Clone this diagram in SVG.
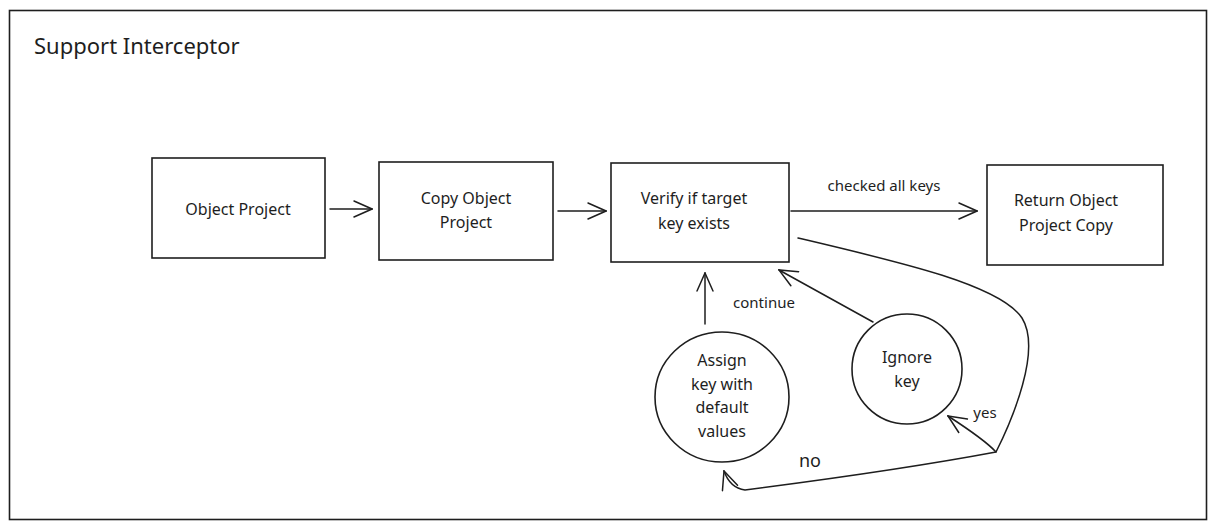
<svg xmlns="http://www.w3.org/2000/svg" width="1217" height="530" viewBox="0 0 1217 530">
<defs>
<style>
.frame{fill:#fff;stroke:#1e1e1e;stroke-width:1.6}
.box{fill:#fff;stroke:#1e1e1e;stroke-width:1.6}
.edge{fill:none;stroke:#1e1e1e;stroke-width:1.5;stroke-linecap:round;stroke-linejoin:round}
.t{font-family:"Noto Sans","DejaVu Sans",sans-serif;font-size:16px;fill:#1e1e1e;text-anchor:middle}
.title{font-family:"Noto Sans","DejaVu Sans",sans-serif;font-size:22px;fill:#1e1e1e}
.lbl{font-family:"Noto Sans","DejaVu Sans",sans-serif;font-size:15px;fill:#1e1e1e;text-anchor:middle}
</style>
<marker id="ah" viewBox="0 0 20 20" refX="19" refY="10" markerWidth="20" markerHeight="20" markerUnits="userSpaceOnUse" orient="auto">
<path d="M1,2 L19,10 L1,18" fill="none" stroke="#1e1e1e" stroke-width="1.5" stroke-linecap="round"/>
</marker>
</defs>
<rect x="0" y="0" width="1217" height="530" fill="#fff"/>
<g id="frame">
<rect class="frame" x="9.5" y="10.5" width="1197" height="509"/>
<text class="title" x="34" y="54">Support Interceptor</text>
</g>
<g id="connectors">
<line class="edge" x1="330" y1="209" x2="372" y2="209" marker-end="url(#ah)"/>
<line class="edge" x1="558" y1="211" x2="606" y2="211" marker-end="url(#ah)"/>
<line class="edge" x1="791" y1="211" x2="977" y2="211" marker-end="url(#ah)"/>
<text class="lbl" x="884" y="191">checked all keys</text>
<line class="edge" x1="705" y1="324" x2="705" y2="273" marker-end="url(#ah)"/>
<text class="lbl" x="764" y="308">continue</text>
<line class="edge" x1="873" y1="322" x2="779" y2="270" marker-end="url(#ah)"/>
<path class="edge" d="M798,238 C900,262 1000,285 1022,318 C1042,350 1012,420 996,452 Q985,440 948,416" marker-end="url(#ah)"/>
<path class="edge" d="M996,452 Q900,470 745,490 Q730,488 724,471" marker-end="url(#ah)"/>
<text class="lbl" x="985" y="418">yes</text>
<text class="t" x="810" y="467" style="font-size:18px">no</text>
</g>
<g id="n1">
<rect class="box" x="152" y="158" width="173" height="100"/>
<text class="t" x="238" y="215">Object Project</text>
</g>
<g id="n2">
<rect class="box" x="379" y="162" width="174" height="98"/>
<text class="t" x="466" y="204">Copy Object</text>
<text class="t" x="466" y="228">Project</text>
</g>
<g id="n3">
<rect class="box" x="611" y="163" width="178" height="99"/>
<text class="t" x="694" y="204">Verify if target</text>
<text class="t" x="694" y="229">key exists</text>
</g>
<g id="n4">
<rect class="box" x="987" y="165" width="176" height="100"/>
<text class="t" x="1066" y="206">Return Object</text>
<text class="t" x="1066" y="231">Project Copy</text>
</g>
<g id="n5">
<ellipse class="box" cx="722" cy="397" rx="67" ry="65"/>
<text class="t" x="722" y="366">Assign</text>
<text class="t" x="722" y="390">key with</text>
<text class="t" x="722" y="413">default</text>
<text class="t" x="722" y="437">values</text>
</g>
<g id="n6">
<circle class="box" cx="907" cy="369" r="55"/>
<text class="t" x="907" y="363">Ignore</text>
<text class="t" x="907" y="387">key</text>
</g>
</svg>
